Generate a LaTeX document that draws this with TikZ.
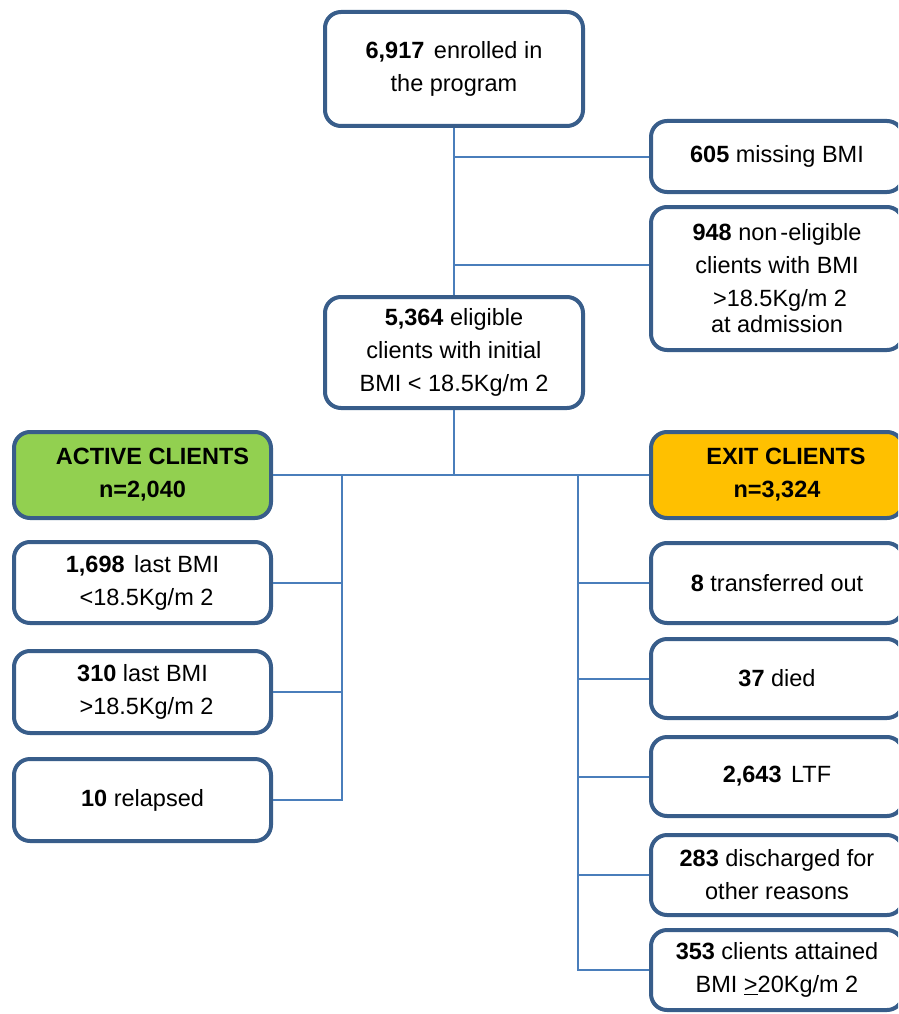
\documentclass[tikz,border=0pt]{standalone}
\usepackage{fontspec}
\setmainfont{Liberation Sans}
\usetikzlibrary{calc}
\definecolor{bord}{HTML}{385D8A}
\definecolor{conn}{HTML}{4A7EBB}
\definecolor{actg}{HTML}{92D050}
\definecolor{exito}{HTML}{FFC000}
\begin{document}
\begin{tikzpicture}[x=1pt,y=-1pt,
  box/.style={draw=bord, line width=4pt, rounded corners=16pt, fill=white,
    align=center, inner sep=0pt, font=\fontsize{23.5}{33}\selectfont},
  link/.style={draw=conn, line width=2pt}]
\useasboundingbox (0,0) rectangle (898,1014);
\clip (0,0) rectangle (898,1014);
% top part
\node[box, minimum width=258, minimum height=114] (top) at (454,69)
  {\textbf{6,917}\kern3pt{} enrolled in\\the program};
\node[box, minimum width=252, minimum height=71] (miss) at (777,156.5)
  {\textbf{605} missing BMI};
\node[box, minimum width=252, minimum height=143] (noneli) at (777,278.5)
  {\textbf{948} non\kern3pt-eligible\\clients with BMI\\\hspace*{6pt}>18.5Kg/m 2\\[-7pt]at admission};
\node[box, minimum width=258, minimum height=111] (elig) at (454,352.5)
  {\textbf{5,364} eligible\\clients with initial\\BMI < 18.5Kg/m 2};
% groups
\node[box, fill=actg, minimum width=257, minimum height=86] (active) at (142.5,475)
  {\hspace*{20pt}\textbf{ACTIVE CLIENTS}\\\textbf{n=2,040}};
\node[box, fill=exito, minimum width=252, minimum height=86] (exit) at (777,475)
  {\hspace*{18pt}\textbf{EXIT CLIENTS}\\\textbf{n=3,324}};
% active children
\node[box, minimum width=257, minimum height=81] (a1) at (142.5,582.5)
  {\textbf{1,698}\kern3pt{} last BMI\\\hspace*{8pt}<18.5Kg/m 2};
\node[box, minimum width=257, minimum height=82] (a2) at (142.5,692)
  {\textbf{310} last BMI\\\hspace*{8pt}>18.5Kg/m 2};
\node[box, minimum width=257, minimum height=82] (a3) at (142.5,800)
  {\textbf{10} relapsed};
% exit children
\node[box, minimum width=252, minimum height=80] (e1) at (777,583)
  {\textbf{8} transferred out};
\node[box, minimum width=252, minimum height=79] (e2) at (777,678.5)
  {\textbf{37} died};
\node[box, minimum width=252, minimum height=79] (e3) at (777,776.5)
  {\textbf{2,643}\kern3pt{} LTF};
\node[box, minimum width=252, minimum height=80] (e4) at (777,875)
  {\textbf{283} discharged for\\other reasons};
\node[box, minimum width=252, minimum height=80] (e5) at (777,970)
  {\textbf{353} clients attained\\BMI \underline{>}20Kg/m 2};
% connectors
\coordinate (nb) at ($(noneli.west)+(0,-13.5)$);
\draw[link] (top.south) -- (elig.north);
\draw[link] (top.south |- miss.west) -- (miss.west);
\draw[link] (top.south |- nb) -- (nb);
\draw[link] (elig.south) -- (elig.south |- active.east);
\draw[link] (active.east) -- (exit.west);
\coordinate (av) at (342,475);
\coordinate (ev) at (578,475);
\draw[link] (av) |- (a3.east);
\draw[link] (a1.east) -- (a1.east -| av);
\draw[link] (a2.east) -- (a2.east -| av);
\draw[link] (ev) |- (e5.west);
\draw[link] (e1.west) -- (e1.west -| ev);
\draw[link] (e2.west) -- (e2.west -| ev);
\draw[link] (e3.west) -- (e3.west -| ev);
\draw[link] (e4.west) -- (e4.west -| ev);
\end{tikzpicture}
\end{document}
